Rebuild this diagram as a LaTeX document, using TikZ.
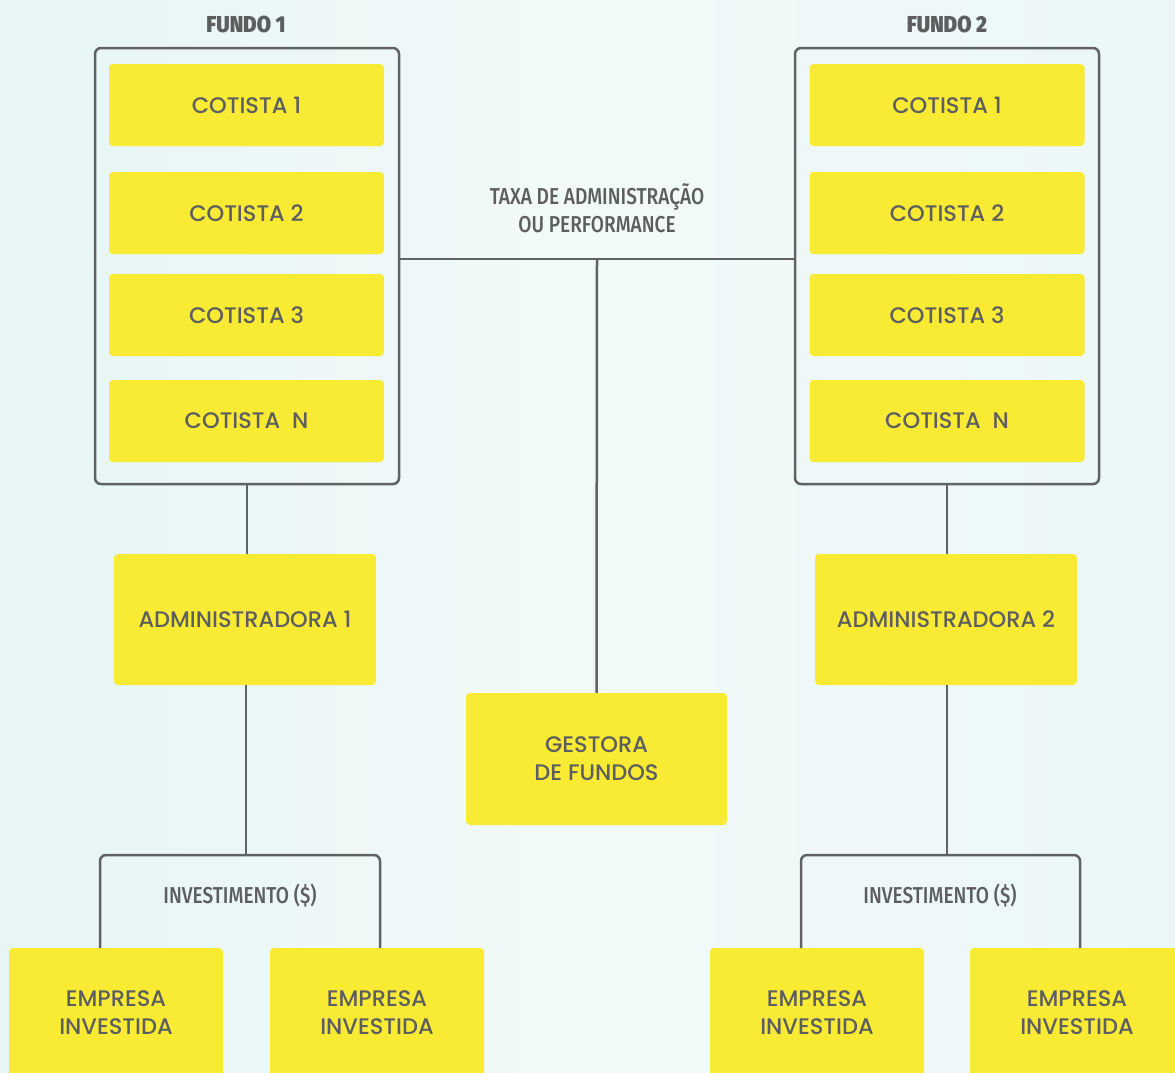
\documentclass[tikz,border=0pt]{standalone}
\usepackage{fontspec}
\setmainfont{Poppins}[UprightFont=* Medium]
\newfontfamily\condfont[FakeStretch=0.83,UprightFont=* Medium]{Fira Sans}
\newfontfamily\headfont[FakeStretch=0.9,UprightFont=* Black]{Fira Sans}
\usetikzlibrary{calc}
\definecolor{bgL}{RGB}{220,242,241}
\definecolor{bgM}{RGB}{242,249,249}
\definecolor{bgR}{RGB}{228,245,245}
\definecolor{ylw}{RGB}{249,234,51}
\definecolor{lgray}{RGB}{96,98,100}
\definecolor{tgray}{RGB}{92,94,96}
\pgfdeclarehorizontalshading{bgshade}{100bp}{color(0bp)=(bgL); color(50bp)=(bgM); color(100bp)=(bgR)}
\tikzset{
  ybox/.style={fill=ylw, rounded corners=4pt, draw=none, text=tgray, align=center,
     font=\fontsize{22.5}{28}\selectfont, inner sep=0pt},
  ytext/.style={text=tgray, align=center, font=\fontsize{22.5}{28}\selectfont, inner sep=0pt},
  fundbox/.style={draw=lgray, line width=2.5pt, rounded corners=6pt, inner sep=0pt},
  conn/.style={draw=lgray, line width=2.5pt},
  clabel/.style={text=tgray, align=center, font=\condfont\fontsize{23}{28}\selectfont, inner sep=0pt},
  flabel/.style={text=tgray, font=\headfont\fontsize{23}{28}\selectfont, inner sep=0pt}
}
\begin{document}
\begin{tikzpicture}[x=1pt,y=-1pt]
\useasboundingbox (0,0) rectangle (1175,1072);
\clip (0,0) rectangle (1175,1072);
\shade[shading=bgshade] (0,0) rectangle (1175,1072);

% Fund frames
\node[fundbox, minimum width=304pt, minimum height=436pt] (f1) at (247,266) {};
\node[fundbox, minimum width=304pt, minimum height=436pt] (f2) at (947,266) {};
\node[flabel] (fl1) at (246,24) {FUNDO 1};
\node[flabel] (fl2) at (947,24) {FUNDO 2};

% Cotistas fund 1
\node[ybox, minimum width=275pt, minimum height=82pt] (c11) at (246.5,105) {COTISTA 1};
\node[ybox, minimum width=275pt, minimum height=82pt] (c12) at (246.5,213) {COTISTA 2};
\node[ybox, minimum width=275pt, minimum height=82pt] (c13) at (246.5,315) {COTISTA 3};
\node[ybox, minimum width=275pt, minimum height=82pt] (c14) at (246.5,421) {COTISTA\ \ N};
% Cotistas fund 2
\node[ybox, minimum width=275pt, minimum height=82pt] (c21) at (947,105) {COTISTA 1};
\node[ybox, minimum width=275pt, minimum height=82pt] (c22) at (947,213) {COTISTA 2};
\node[ybox, minimum width=275pt, minimum height=82pt] (c23) at (947,315) {COTISTA 3};
\node[ybox, minimum width=275pt, minimum height=82pt] (c24) at (947,421) {COTISTA\ \ N};

% Administradoras
\node[ybox, minimum width=262pt, minimum height=131pt] (a1) at (245,619.5) {ADMINISTRADORA 1};
\node[ybox, minimum width=262pt, minimum height=131pt] (a2) at (946,619.5) {ADMINISTRADORA 2};

% Gestora
\node[ybox, minimum width=261pt, minimum height=132pt] (g) at (596.5,759) {GESTORA\\DE FUNDOS};

% Empresas
\node[ybox, minimum width=214pt, minimum height=140pt] (e1) at (116,1018) {};
\node[ybox, minimum width=214pt, minimum height=140pt] (e2) at (377,1018) {};
\node[ybox, minimum width=214pt, minimum height=140pt] (e3) at (817,1018) {};
\node[ybox, minimum width=214pt, minimum height=140pt] (e4) at (1077,1018) {};
\node[ytext] (t1) at (116,1013) {EMPRESA\\INVESTIDA};
\node[ytext] (t2) at (377,1013) {EMPRESA\\INVESTIDA};
\node[ytext] (t3) at (817,1013) {EMPRESA\\INVESTIDA};
\node[ytext] (t4) at (1077,1013) {EMPRESA\\INVESTIDA};

% Labels
\node[clabel] (taxa) at (597,208) {TAXA DE ADMINISTRAÇÃO\\OU PERFORMANCE};
\node[clabel] (inv1) at (240,896) {INVESTIMENTO (\$)};
\node[clabel] (inv2) at (940,896) {INVESTIMENTO (\$)};

% Connectors
\coordinate (j) at (597,259);
\draw[conn] (f1.east |- j) -- (f2.west |- j);
\draw[conn] (j) -- (g.north);
\draw[conn] (f1.south) -- (a1.north -| f1.south);
\draw[conn] (f2.south) -- (a2.north -| f2.south);

\coordinate (b1) at (246,855);
\coordinate (b1l) at (100,948);
\coordinate (b1r) at (380,948);
\draw[conn] (a1.south -| b1) -- (b1);
\draw[conn, rounded corners=6pt] (b1l) -- (b1l |- b1) -- (b1r |- b1) -- (b1r);

\coordinate (b2) at (947,855);
\coordinate (b2l) at (801,948);
\coordinate (b2r) at (1080,948);
\draw[conn] (a2.south -| b2) -- (b2);
\draw[conn, rounded corners=6pt] (b2l) -- (b2l |- b2) -- (b2r |- b2) -- (b2r);
\end{tikzpicture}
\end{document}
